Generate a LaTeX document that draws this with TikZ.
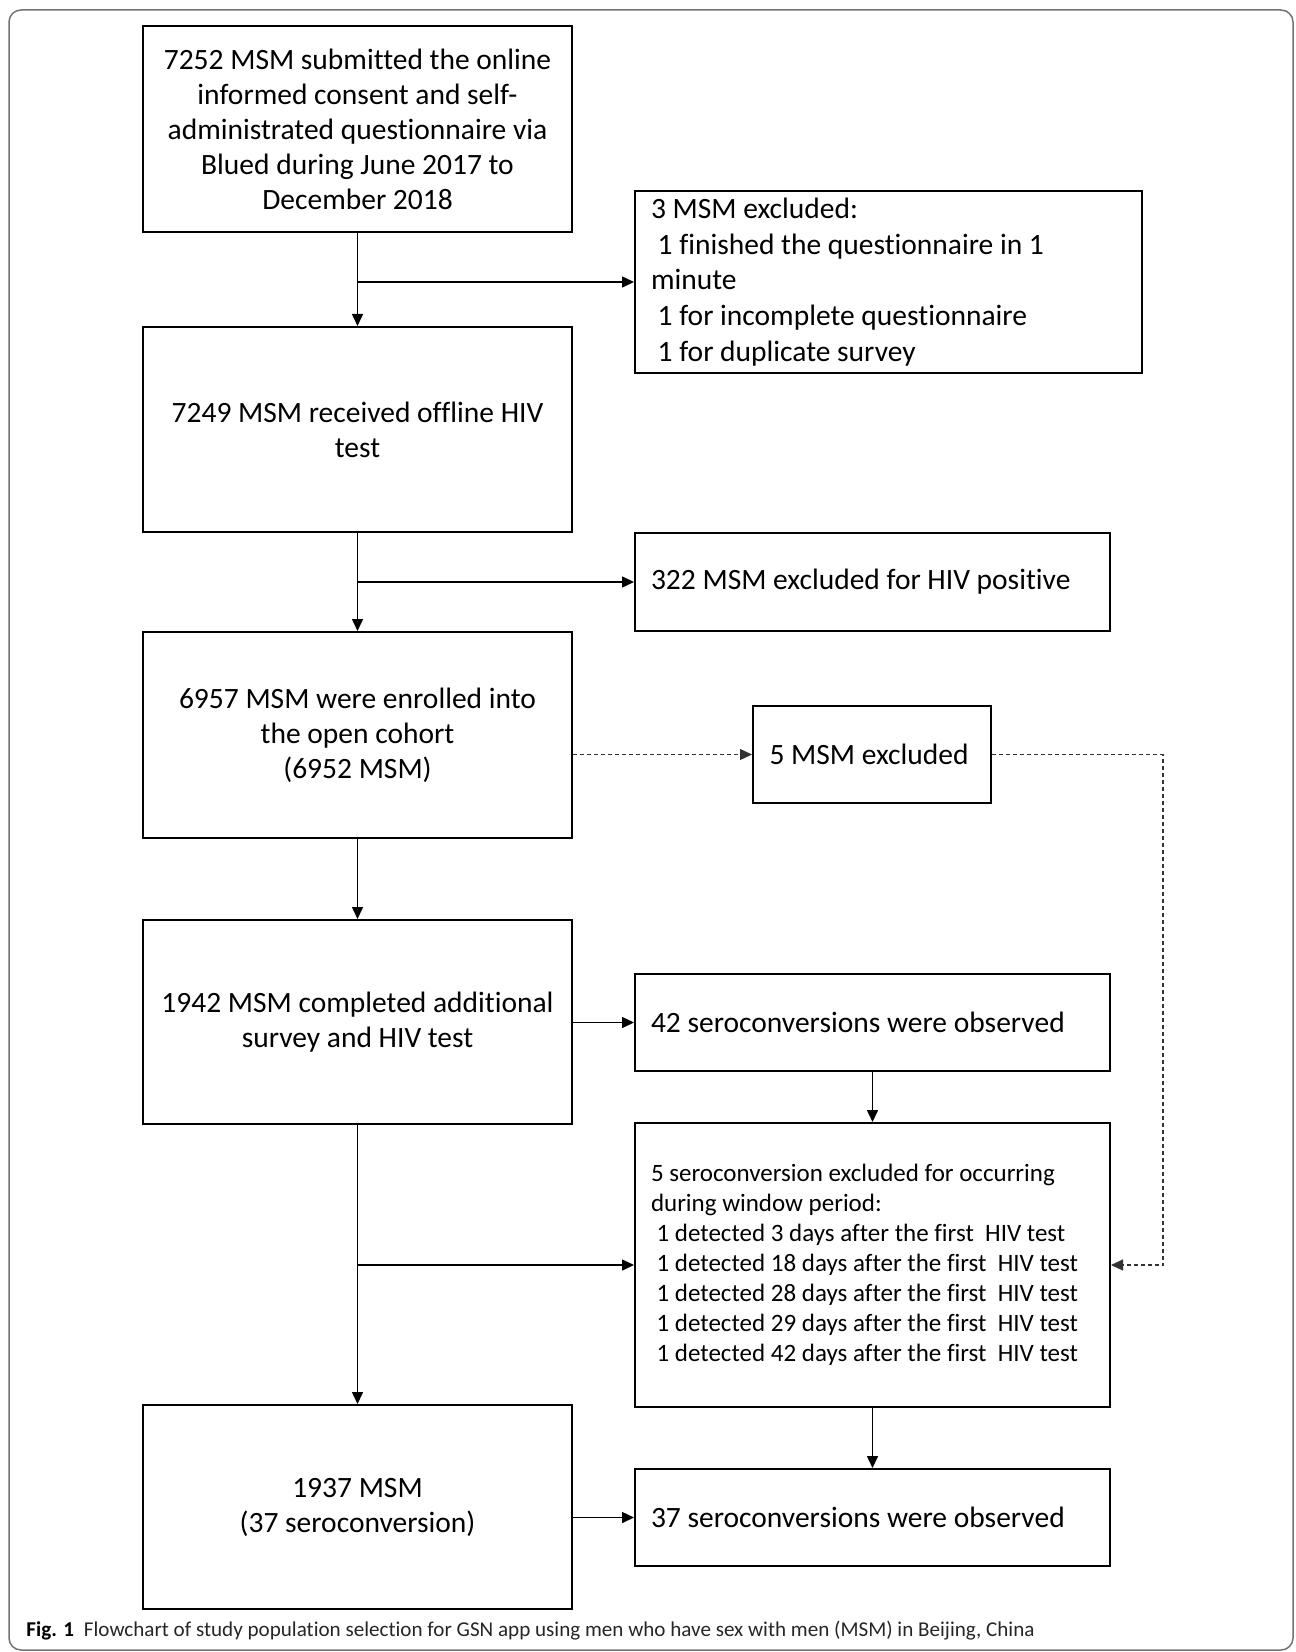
\documentclass[tikz,border=0pt]{standalone}
\usepackage{fontspec}
\setmainfont{Carlito}[Ligatures=CommonOff]
\usetikzlibrary{arrows.meta}
\newcommand\lsp{\hspace*{0.226em}}
\newcommand\nsp{\spaceskip=0pt\xspaceskip=0pt\hyphenpenalty=10000\relax}
\begin{document}
\begin{tikzpicture}[x=0.5pt,y=-0.5pt,
  lbox/.style={draw=black, line width=1pt, inner sep=0pt, align=center,
    minimum width=214.5pt, minimum height=102.5pt,
    font=\fontsize{14.75}{17.5}\selectfont},
  rbox/.style={draw=black, line width=1pt, inner xsep=8pt, inner ysep=0pt, align=left,
    text width=221.5pt, font=\fontsize{14.75}{17.5}\selectfont},
  arr/.style={line width=0.75pt, -{Triangle[length=6pt,width=5.5pt]}},
  dsh/.style={line width=0.6pt, draw=black!80, dash pattern=on 2pt off 1.5pt},
]
\useasboundingbox (0,0) rectangle (1295,1652);
\draw[black!55, line width=0.75pt, rounded corners=6pt] (9,10) rectangle (1293,1650);

% left column
\node[lbox, minimum height=103pt] (b1) at (357.5,129) {7252 MSM submitted the online\\informed consent and self-\\administrated questionnaire via\\Blued during June 2017 to\\December 2018};
\node[lbox] (b2) at (357.5,429.5) {7249 MSM received offline HIV\\test};
\node[lbox, minimum height=103pt] (b3) at (357.5,735) {6957 MSM were enrolled into\\the open cohort\\(6952 MSM)};
\node[lbox, minimum height=102pt] (b4) at (357.5,1022) {1942 MSM completed additional\\survey and HIV test};
\node[lbox, minimum height=102pt] (b5) at (357.5,1507) {1937 MSM\\(37 seroconversion)};

% right column
\node[rbox, text width=237.5pt, minimum height=91pt, font=\fontsize{14.75}{17.8}\selectfont] (r1) at (888.5,282) {\nsp 3 MSM excluded:\\\lsp 1 finished the questionnaire in 1\\minute\\\lsp 1 for incomplete questionnaire\\\lsp 1 for duplicate survey};
\node[rbox, minimum height=49pt] (r2) at (872.5,582) {\nsp 322 MSM excluded for HIV positive};
\node[rbox, inner xsep=8.25pt, text width=102.5pt, minimum height=48.5pt] (r3) at (872,754.5) {\nsp 5 MSM excluded};
\node[rbox, minimum height=48.5pt] (r4) at (872.5,1022.5) {\nsp 42 seroconversions were observed};
\node[rbox, minimum height=142pt, font=\fontsize{12.5}{15}\selectfont] (r5) at (872.5,1265) {\nsp 5 seroconversion excluded for occurring\\during window period:\\\lsp 1 detected 3 days after the first\ \ HIV test\\\lsp 1 detected 18 days after the first\ \ HIV test\\\lsp 1 detected 28 days after the first\ \ HIV test\\\lsp 1 detected 29 days after the first\ \ HIV test\\\lsp 1 detected 42 days after the first\ \ HIV test};
\node[rbox, minimum height=48.5pt] (r6) at (872.5,1517.5) {\nsp 37 seroconversions were observed};

% junctions
\coordinate (j1) at (357.5,282);
\coordinate (j2) at (357.5,582);
\coordinate (j3) at (357.5,1265);
\coordinate (d1) at (1163,754.5);
\coordinate (d2) at (1163,1265);

% connectors
\draw[arr] (b1.south) -- (b2.north);
\draw[arr] (j1) -- (j1 -| r1.west);
\draw[arr] (b2.south) -- (b3.north);
\draw[arr] (j2) -- (j2 -| r2.west);
\draw[arr] (b3.south) -- (b4.north);
\draw[arr] (b4.east |- r4.west) -- (r4.west);
\draw[arr] (r4.south) -- (r5.north);
\draw[arr] (b4.south) -- (b5.north);
\draw[arr] (j3) -- (j3 -| r5.west);
\draw[arr] (r5.south) -- (r6.north);
\draw[arr] (b5.east |- r6.west) -- (r6.west);
\draw[dsh, -{Triangle[length=6pt,width=5.5pt]}] (b3.east |- r3.west) -- (r3.west);
\draw[dsh, -{Triangle[length=6pt,width=5.5pt]}] (r3.east) -- (d1) -- (d2) -- (d2 -| r5.east);

% caption
\node[anchor=base west, inner sep=0pt, font=\fontsize{10.55}{12}\selectfont] (cap) at (26,1636) {\textbf{Fig. 1}\hspace{5pt}{\color{black!85}Flowchart of study population selection for GSN app using men who have sex with men (MSM) in Beijing, China}};
\end{tikzpicture}
\end{document}
